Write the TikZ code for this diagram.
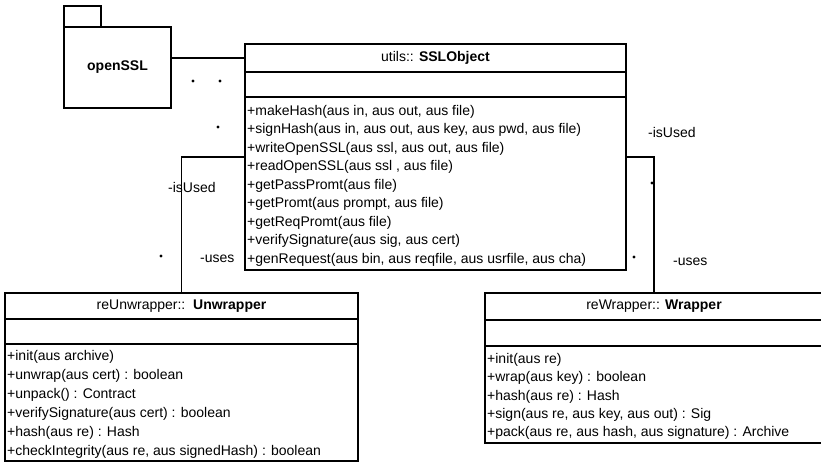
\documentclass[tikz,border=0pt]{standalone}
\usepackage{fontspec}
\setmainfont{Liberation Sans}
\begin{document}
\begin{tikzpicture}[x=1pt,y=-1pt,
  box/.style={draw, line width=1.8pt, inner sep=0pt, outer sep=0pt, rectangle, anchor=north west},
  lbl/.style={font=\fontsize{14}{16}\selectfont, inner sep=0pt, anchor=west},
  ttl/.style={font=\fontsize{14}{16}\selectfont, inner sep=0pt},
  ttlb/.style={font=\fontsize{14}{16}\selectfont\bfseries, inner sep=0pt},
  conn/.style={line width=1.8pt},
  dot/.style={circle, fill, inner sep=0pt, minimum size=3.4pt}]
\useasboundingbox (0,0) rectangle (821,462);

% openSSL package
\node[box, minimum width=37pt, minimum height=21pt] (tab) at (64,6) {};
\node[box, minimum width=107pt, minimum height=81pt] (pkg) at (64,27) {};
\node[ttlb] (pkgname) at (pkg.center) {openSSL};

% SSLObject
\node[box, minimum width=381pt, minimum height=226pt] (ssl) at (245,44) {};
\node[box, minimum width=381pt, minimum height=28pt] (sslhead) at (245,44) {};
\node[box, minimum width=381pt, minimum height=25pt] (sslattr) at (245,72) {};
\node[ttl] (sslname) at (sslhead.center) {utils:: \textbf{SSLObject}};
\foreach \t [count=\i] in {
  {+makeHash(aus in, aus out, aus file)},
  {+signHash(aus in, aus out, aus key, aus pwd, aus file)},
  {+writeOpenSSL(aus ssl, aus out, aus file)},
  {+readOpenSSL(aus ssl , aus file)},
  {+getPassPromt(aus file)},
  {+getPromt(aus prompt, aus file)},
  {+getReqPromt(aus file)},
  {+verifySignature(aus sig, aus cert)},
  {+genRequest(aus bin, aus reqfile, aus usrfile, aus cha)}}
  \node[lbl] (sm\i) at (247, 93+18.5*\i) {\t};

% Unwrapper
\node[box, minimum width=353pt, minimum height=168pt] (unw) at (5,293) {};
\node[box, minimum width=353pt, minimum height=26pt] (unwhead) at (5,293) {};
\node[box, minimum width=353pt, minimum height=25pt] (unwattr) at (5,319) {};
\node[ttl] (unwname) at (unwhead.center) {reUnwrapper::\ \ \textbf{Unwrapper}};
\foreach \t [count=\i] in {
  {+init(aus archive)},
  {+unwrap(aus cert) : boolean},
  {+unpack() : Contract},
  {+verifySignature(aus cert) : boolean},
  {+hash(aus re) : Hash},
  {+checkIntegrity(aus re, aus signedHash) : boolean}}
  \node[lbl] (um\i) at (7, 338+19*\i) {\t};

% Wrapper
\node[box, minimum width=338pt, minimum height=150pt] (wr) at (485,293) {};
\node[box, minimum width=338pt, minimum height=27pt] (wrhead) at (485,293) {};
\node[box, minimum width=338pt, minimum height=26pt] (wrattr) at (485,320) {};
\node[ttl] (wrname) at (wrhead.center) {reWrapper:: \textbf{Wrapper}};
\foreach \t [count=\i] in {
  {+init(aus re)},
  {+wrap(aus key) : boolean},
  {+hash(aus re) : Hash},
  {+sign(aus re, aus key, aus out) : Sig},
  {+pack(aus re, aus hash, aus signature) : Archive}}
  \node[lbl] (wm\i) at (487, 341.5+18.3*\i) {\t};

% connectors
\draw[conn] (pkg.east |- sslhead.west) -- (sslhead.west);
\draw[conn] (ssl.west) -| (unw.north);
\draw[conn] (ssl.east) -| (wr.north);

% labels
\node[lbl] (l1) at (168,187) {-isUsed};
\node[lbl] (l2) at (200,259) {-uses};
\node[lbl] (l3) at (648,132) {-isUsed};
\node[lbl] (l4) at (673,262) {-uses};

% dots
\node[dot] (d1) at (193,81) {};
\node[dot] (d2) at (220,81) {};
\node[dot] (d3) at (218,127) {};
\node[dot] (d4) at (161,256) {};
\node[dot] (d5) at (652,183) {};
\node[dot] (d6) at (634,257) {};
\end{tikzpicture}
\end{document}
